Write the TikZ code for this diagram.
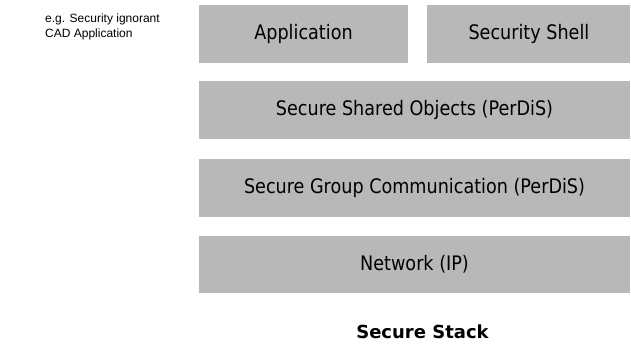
\documentclass[tikz,border=0pt]{standalone}
\usepackage{fontspec}
\newfontfamily\layerfont[FakeStretch=0.88]{DejaVu Sans}
\newfontfamily\titlefont{DejaVu Sans}
\newfontfamily\notefont{Liberation Sans}
\usetikzlibrary{positioning}
\definecolor{stackgray}{gray}{0.72}
\tikzset{
    layer_node/.style={rectangle, fill=stackgray, minimum height=58pt, text centered, align=center,
        font=\layerfont\fontsize{20pt}{24pt}\selectfont},
    wide_layer/.style={layer_node, minimum width=431pt},
    note_text/.style={inner sep=0pt, align=left, font=\notefont\fontsize{12pt}{15pt}\selectfont},
    title_text/.style={font=\titlefont\bfseries\fontsize{18pt}{22pt}\selectfont},
}

\begin{document}
\begin{tikzpicture}
      \useasboundingbox (0,0) rectangle (631pt,345pt);
      %%%%%%%%%%%%%%%%
      % Secure Stack %
      %%%%%%%%%%%%%%%%
      \node (app) [layer_node, minimum width=209pt] at (303.5pt,311pt)
          {Application};
      \node (shell) [layer_node, minimum width=203pt, right = 19pt of app]
          {Security Shell};
      \node (objects) [wide_layer, below = 18pt of app.south west, anchor=north west]
          {Secure Shared Objects (PerDiS)};
      \node (group) [wide_layer, below = 19pt of objects]
          {Secure Group Communication (PerDiS)};
      \node (network) [wide_layer, minimum height=57pt, below = 19pt of group]
          {Network (IP)};

      \node (note) [note_text, anchor=north west] at (45pt,331pt)
          {e.g. Security ignorant\\CAD Application};
      \node (title) [title_text, below = 28pt of network, xshift=8pt]
          {Secure Stack};

    \end{tikzpicture}
\end{document}
